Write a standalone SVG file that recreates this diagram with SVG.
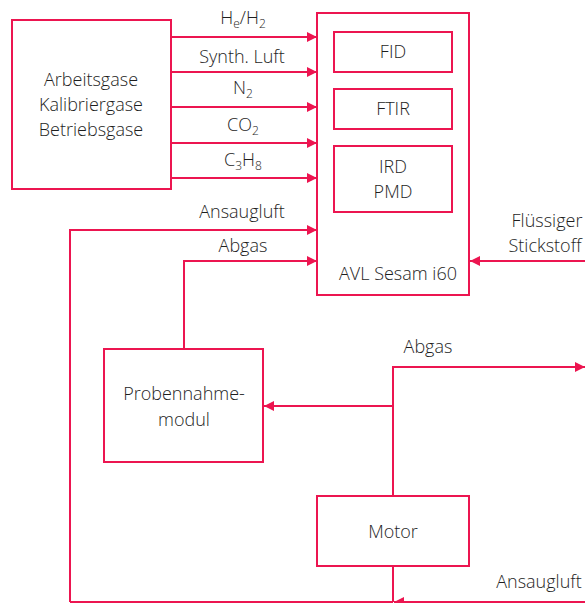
<svg xmlns="http://www.w3.org/2000/svg" width="585" height="603" viewBox="0 0 585 603">
<defs>
<marker id="ah" markerWidth="10" markerHeight="10" refX="10" refY="5" orient="auto" markerUnits="userSpaceOnUse">
<path d="M0,0 L10,5 L0,10 Z" fill="#EC1550"/>
</marker>
<style>
.box{fill:#fff;stroke:#EC1550;stroke-width:2}
.ln{fill:none;stroke:#EC1550;stroke-width:2}
.ar{fill:none;stroke:#EC1550;stroke-width:2;marker-end:url(#ah)}
text{font-family:"Open Sans","Noto Sans","Liberation Sans",sans-serif;font-size:18px;font-weight:300;fill:#1e1e1e;text-anchor:middle}
.sub{font-size:12px}
</style>
</defs>
<rect width="585" height="603" fill="#fff"/>
<g id="connectors">
<line class="ar" x1="171" y1="37" x2="317" y2="37"/>
<line class="ar" x1="171" y1="72" x2="317" y2="72"/>
<line class="ar" x1="171" y1="107" x2="317" y2="107"/>
<line class="ar" x1="171" y1="143" x2="317" y2="143"/>
<line class="ar" x1="171" y1="178" x2="317" y2="178"/>
<polyline class="ar" points="70,602 70,230 317,230"/>
<polyline class="ar" points="184,349 184,261 317,261"/>
<line class="ar" x1="585" y1="261" x2="470" y2="261"/>
<line class="ar" x1="393" y1="406" x2="264" y2="406"/>
<polyline class="ar" points="393,496 393,367 585,367"/>
<line class="ln" x1="393" y1="566" x2="393" y2="602"/>
<line class="ln" x1="70" y1="602" x2="393" y2="602"/>
<line class="ar" x1="585" y1="602" x2="394" y2="602"/>
</g>
<g id="gases">
<rect class="box" x="12" y="20" width="159" height="169"/>
<text x="91" y="86">Arbeitsgase</text>
<text x="91" y="111">Kalibriergase</text>
<text x="91" y="136">Betriebsgase</text>
</g>
<g id="avl">
<rect class="box" x="317" y="13" width="152" height="282"/>
<text x="398" y="280">AVL Sesam i60</text>
</g>
<g id="fid">
<rect class="box" x="334" y="32" width="118" height="40"/>
<text x="393" y="58">FID</text>
</g>
<g id="ftir">
<rect class="box" x="334" y="89" width="118" height="40"/>
<text x="393" y="115">FTIR</text>
</g>
<g id="ird">
<rect class="box" x="334" y="146" width="118" height="66"/>
<text x="393" y="173">IRD</text>
<text x="393" y="198">PMD</text>
</g>
<g id="probe">
<rect class="box" x="104" y="349" width="159" height="113"/>
<text x="184" y="400">Probennahme-</text>
<text x="184" y="426">modul</text>
</g>
<g id="motor">
<rect class="box" x="317" y="496" width="152" height="70"/>
<text x="393" y="538">Motor</text>
</g>
<g id="labels">
<text x="243" y="24">H<tspan class="sub" dy="4">e</tspan><tspan dy="-4">/H</tspan><tspan class="sub" dy="4">2</tspan></text>
<text x="242" y="63">Synth. Luft</text>
<text x="243" y="94">N<tspan class="sub" dy="4">2</tspan></text>
<text x="243" y="131">CO<tspan class="sub" dy="4">2</tspan></text>
<text x="243" y="166">C<tspan class="sub" dy="4">3</tspan><tspan dy="-4">H</tspan><tspan class="sub" dy="4">8</tspan></text>
<text x="242" y="218">Ansaugluft</text>
<text x="243" y="252">Abgas</text>
<text x="547" y="227">Flüssiger</text>
<text x="545" y="252">Stickstoff</text>
<text x="428" y="353">Abgas</text>
<text x="539" y="588">Ansaugluft</text>
</g>
</svg>
